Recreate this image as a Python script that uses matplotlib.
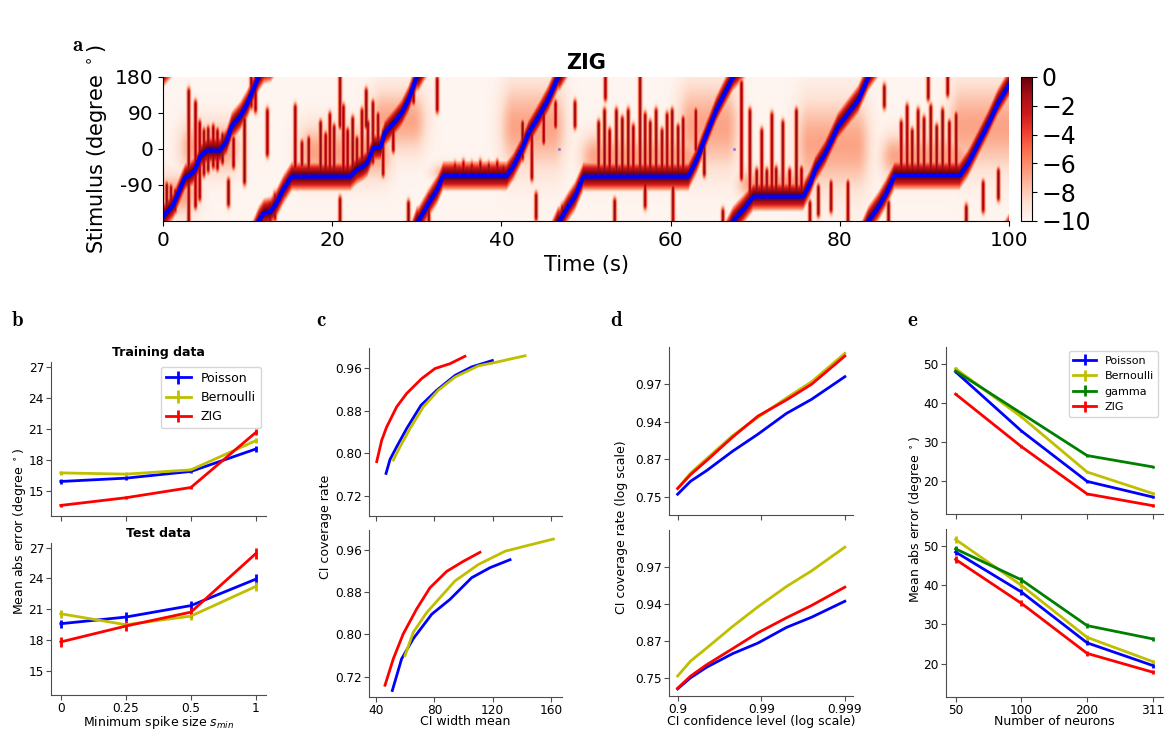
import numpy as np
import matplotlib
matplotlib.use("Agg")
import matplotlib.pyplot as plt

# ---------------- panel a: decoded stimulus (time in s, angle in degrees), one list per wrap
SEG_T = [
    [0.0, 1.2, 2.6, 3.0, 3.8, 4.4, 5.2, 6.7, 7.5, 8.1, 9.1, 9.9, 11.3],
    [11.3, 11.9, 12.7, 13.4, 14.2, 15.2, 22.1, 22.9, 23.5, 24.1, 24.9, 25.7, 26.2, 27.4, 28.2, 29.0, 30.0],
    [30.2, 31.4, 32.4, 33.1, 40.6, 41.4, 42.4, 43.2, 44.4, 45.5, 46.7],
    [46.9, 47.9, 48.7, 49.7, 62.1, 63.1, 64.3, 65.4, 66.2, 67.4],
    [67.4, 68.6, 69.8, 75.7, 76.5, 77.1, 78.3, 79.8, 81.0, 82.2, 83.4],
    [83.4, 84.6, 85.5, 86.5, 94.2, 95.2, 96.4, 97.6, 98.7, 100.0],
]
SEG_A = [
    [-170, -140, -71, -68, -52, -19, -4, -4, 18, 56, 81, 110, 180],
    [-180, -161, -157, -136, -102, -69, -69, -52, -46, -36, 3, 4, 39, 68, 89, 122, 180],
    [-180, -136, -102, -68, -68, -44, -2, 39, 81, 122, 180],
    [-180, -144, -119, -69, -69, -27, 39, 97, 131, 180],
    [-180, -152, -119, -119, -86, -52, -11, 56, 89, 122, 180],
    [-180, -144, -111, -66, -66, -36, 14, 64, 114, 160],
]
WRAP_DOT_T = [46.85, 67.5]
WRAP_DOT_A = [0, 0]

# broad hazy parts of the posterior: (t0, t1, angle_lo, angle_hi)
CLOUDS = [
    (3.5, 7.5, -45, 50), (17.5, 25.5, -60, 40), (33.5, 40.5, -68, -50),
    (51.0, 62.0, -60, 20), (69.5, 75.5, -110, -65), (86.5, 94.0, -60, 20),
    (0.0, 2.5, -150, -80), (41.5, 46.0, -30, 140), (76.5, 82.0, -80, 100),
    (94.5, 100.0, -30, 140), (26.0, 29.5, 10, 130), (62.5, 66.5, -30, 140),
]
# vertical streaks of the posterior: (t, angle_lo, angle_hi)
STREAKS = [
    (0.4, -150, -95), (0.9, -140, -100), (1.4, -150, -110), (3.0, -180, 140), (3.8, -140, 110),
    (4.3, -120, 60), (4.8, -60, 40), (5.3, -50, 45), (5.9, -40, 50), (6.4, -45, 40), (7.0, -30, 30),
    (7.7, -135, -85), (8.3, -40, 20), (9.6, -80, 70), (10.4, 110, 180), (10.9, 100, 180),
    (12.3, -10, 90), (12.6, -180, -140), (13.2, -170, -120), (15.6, -45, 100), (16.4, -40, 10),
    (17.2, -50, 20), (18.6, -60, 60), (19.2, -60, 30), (19.7, -60, 80), (20.2, -60, 50),
    (20.9, 60, 180), (20.9, -180, -130), (21.3, -60, 100), (21.8, -60, 40), (22.4, -60, 70),
    (22.9, -50, 20), (23.5, -50, 90), (24.0, 60, 140), (24.2, -40, 60), (24.8, -30, 110),
    (25.4, 10, 80), (26.0, -60, 40), (27.2, 0, 60),
    (29.0, -180, -140), (29.6, 120, 170), (31.4, -180, -120), (32.4, 100, 170), (34.5, -68, -45),
    (35.5, -68, -40), (36.5, -68, -45), (37.5, -68, -40), (38.5, -68, -45), (39.5, -68, -40),
    (40.2, -68, -50), (42.5, -20, 60), (43.6, -70, 60), (44.1, -170, -120), (45.0, 20, 100),
    (46.4, 60, 110), (48.7, 60, 110),
    (47.2, -180, -150), (51.5, -68, 60), (52.2, -68, 90), (52.3, 130, 180), (52.8, -68, 40),
    (53.4, -180, -135), (53.6, -68, 90), (54.3, -68, 70), (55.0, -68, 90), (55.6, -68, 50),
    (56.4, -68, 180), (57.0, -140, -90), (57.0, -68, 80), (57.6, -68, 60), (58.3, -68, 90),
    (59.0, -68, 40), (59.6, -68, 80), (60.2, -68, 90), (60.3, -180, -100), (60.9, -68, 50),
    (61.5, -68, 70), (63.0, 0, 90), (64.0, -60, 20), (66.2, -180, -160),
    (68.4, -70, 160), (69.4, -117, 90), (70.2, -117, -60), (70.8, -117, 40), (71.4, -117, -60),
    (72.0, -117, 80), (72.5, -117, -55), (73.3, -117, 60), (74.1, -117, -60), (74.9, -117, 90),
    (75.5, -117, -55), (76.5, -180, -140), (77.5, -160, -100), (79.0, -150, -90), (81.0, -180, -90),
    (85.3, 110, 150), (85.8, -180, -140), (87.3, -68, 60), (88.0, -68, 100), (88.6, -68, 40),
    (89.3, -68, 90), (90.0, -68, 70), (90.5, 130, 180), (90.8, -68, 100), (91.5, -68, 50),
    (92.2, -68, 90), (92.8, 140, 180), (93.0, -68, 60), (93.8, -68, 80), (95.0, -180, -150),
    (97.0, -150, -90), (98.8, -120, -60),
]

# ---------------- panel b: mean abs error vs minimum spike size
SMIN_LABELS = ["0", "0.25", "0.5", "1"]
TRAIN_POISSON = [15.93, 16.25, 16.9, 19.07]
TRAIN_BERNOULLI = [16.76, 16.64, 17.05, 19.88]
TRAIN_ZIG = [13.62, 14.36, 15.35, 20.68]
TRAIN_ERR_POISSON = [0.2, 0.2, 0.2, 0.25]
TRAIN_ERR_BERNOULLI = [0.2, 0.2, 0.2, 0.25]
TRAIN_ERR_ZIG = [0.15, 0.15, 0.15, 0.3]
TEST_POISSON = [19.58, 20.23, 21.35, 23.94]
TEST_BERNOULLI = [20.55, 19.48, 20.32, 23.23]
TEST_ZIG = [17.8, 19.35, 20.71, 26.45]
TEST_ERR_POISSON = [0.4, 0.45, 0.45, 0.5]
TEST_ERR_BERNOULLI = [0.4, 0.4, 0.4, 0.45]
TEST_ERR_ZIG = [0.45, 0.45, 0.45, 0.55]

# ---------------- panel c: CI coverage rate vs CI width mean
C_TRAIN_POISSON_X = [46.9, 49.6, 54.2, 61.0, 70.9, 81.6, 94.2, 105.6, 119.8]
C_TRAIN_POISSON_Y = [0.762, 0.788, 0.812, 0.846, 0.890, 0.918, 0.946, 0.962, 0.974]
C_TRAIN_BERNOULLI_X = [51.9, 56.5, 63.3, 72.5, 82.7, 94.2, 110.2, 122.7, 142.2]
C_TRAIN_BERNOULLI_Y = [0.787, 0.812, 0.846, 0.887, 0.918, 0.943, 0.964, 0.971, 0.983]
C_TRAIN_ZIG_X = [40.5, 43.9, 47.3, 54.2, 61.0, 71.3, 80.5, 90.7, 101.0]
C_TRAIN_ZIG_Y = [0.784, 0.824, 0.849, 0.887, 0.912, 0.940, 0.959, 0.968, 0.982]
C_TEST_POISSON_X = [51.2, 54.2, 57.6, 65.6, 78.2, 90.7, 105.6, 118.2, 131.9]
C_TEST_POISSON_Y = [0.694, 0.722, 0.754, 0.792, 0.838, 0.866, 0.907, 0.926, 0.941]
C_TEST_BERNOULLI_X = [59.9, 65.6, 74.7, 94.2, 110.2, 128.5, 145.6, 161.6]
C_TEST_BERNOULLI_Y = [0.760, 0.804, 0.841, 0.901, 0.932, 0.957, 0.969, 0.980]
C_TEST_ZIG_X = [46.2, 51.9, 58.7, 67.9, 77.0, 88.5, 99.9, 111.3]
C_TEST_ZIG_Y = [0.704, 0.754, 0.801, 0.848, 0.888, 0.919, 0.938, 0.955]

# ---------------- panel d: coverage rate vs confidence level (both on -log10(1-p) scale)
CONF_LEVELS = [0.9, 0.93, 0.955, 0.978, 0.989, 0.995, 0.9975, 0.999]
D_TRAIN_POISSON = [0.7607, 0.8116, 0.8451, 0.8916, 0.9206, 0.9459, 0.9583, 0.9725]
D_TRAIN_BERNOULLI = [0.7847, 0.8378, 0.8755, 0.9187, 0.9418, 0.9593, 0.9698, 0.9821]
D_TRAIN_ZIG = [0.7847, 0.8333, 0.8712, 0.9164, 0.9431, 0.9578, 0.9684, 0.9812]
D_TEST_POISSON = [0.6945, 0.7517, 0.7958, 0.8415, 0.8697, 0.9027, 0.9196, 0.9403]
D_TEST_BERNOULLI = [0.7596, 0.8180, 0.8571, 0.9045, 0.9336, 0.9546, 0.9661, 0.9782]
D_TEST_ZIG = [0.6980, 0.7590, 0.8050, 0.8555, 0.8924, 0.9187, 0.9354, 0.9541]
D_YTICK_LABELS = ["0.75", "0.87", "0.94", "0.97"]
D_XTICK_LABELS = ["0.9", "0.99", "0.999"]

# ---------------- panel e: mean abs error vs number of neurons
NEURON_LABELS = ["50", "100", "200", "311"]
E_TRAIN_POISSON = [47.9, 32.8, 19.9, 15.9]
E_TRAIN_BERNOULLI = [48.7, 36.4, 22.3, 16.8]
E_TRAIN_GAMMA = [48.1, 37.3, 26.5, 23.6]
E_TRAIN_ZIG = [42.2, 28.8, 16.7, 13.7]
E_TEST_POISSON = [48.5, 38.3, 25.3, 19.5]
E_TEST_BERNOULLI = [51.7, 40.0, 26.7, 20.5]
E_TEST_GAMMA = [49.3, 41.4, 29.7, 26.3]
E_TEST_ZIG = [46.6, 35.4, 22.6, 17.8]
E_TRAIN_ERR = [0.3, 0.3, 0.3, 0.3]
E_TEST_ERR = [0.8, 0.8, 0.6, 0.5]

COLORS = {"Poisson": "b", "Bernoulli": "y", "gamma": "g", "ZIG": "r"}
SMALL = 9


def soft_box(x, lo, hi, w):
    out = np.maximum(np.maximum(lo - x, x - hi), 0)
    return np.exp(-0.5 * (out / w) ** 2)


def style_small(ax, show_x=True):
    for s in ["top", "right"]:
        ax.spines[s].set_visible(False)
    for s in ["left", "bottom"]:
        ax.spines[s].set_color("0.3")
    ax.tick_params(labelsize=8.7, length=3.5, color="0.3", pad=1.5, labelbottom=show_x)


fig = plt.figure(figsize=(11.68, 7.30), dpi=100)

# ---------------- panel a
ax_a = fig.add_axes([0.1396, 0.6973, 0.7243, 0.1973])
t_grid = np.linspace(0, 100, 1001)
a_grid = np.linspace(-180, 180, 181)
TT, AA = np.meshgrid(t_grid, a_grid)
traj = np.zeros_like(t_grid)
for ts, angs in zip(SEG_T, SEG_A):
    m = t_grid >= ts[0]
    traj[m] = np.interp(t_grid[m], ts, angs)
dist = np.abs((AA - traj[None, :] + 180) % 360 - 180)
logp = -10 * (dist / 40.0) ** 2
for t0, t1, lo, hi in CLOUDS:
    mid, half = (lo + hi) / 2, (hi - lo) / 2
    g = soft_box(TT, t0, t1, 1.2) * np.exp(-0.5 * ((AA - mid) / (0.8 * half + 8)) ** 2)
    logp = np.maximum(logp, -10 + 3.2 * g)
for ts, lo, hi in STREAKS:
    g = np.exp(-0.5 * ((TT - ts) / 0.16) ** 2) * soft_box(AA, lo, hi, 10)
    logp = np.maximum(logp, -10 + 9.3 * g)
logp = np.clip(logp, -10, 0)

im = ax_a.imshow(logp, extent=[0, 100, -180, 180], origin="lower", aspect="auto",
                 cmap="Reds", vmin=-10, vmax=0)
for ts, angs in zip(SEG_T, SEG_A):
    ax_a.plot(ts, angs, color="b", lw=3)
ax_a.scatter(WRAP_DOT_T, WRAP_DOT_A, s=5, color="b", alpha=0.4, lw=0)
ax_a.set_xlim(0, 100)
ax_a.set_ylim(-180, 180)
ax_a.set_xticks([0, 20, 40, 60, 80, 100])
ax_a.set_yticks([-90, 0, 90, 180])
ax_a.set_yticklabels(["-90", "0", "90", "180"])
ax_a.tick_params(labelsize=14.5)
for s in ["top", "right"]:
    ax_a.spines[s].set_visible(False)
ax_a.set_xlabel("Time (s)", fontsize=15)
ax_a.set_ylabel("Stimulus (degree $^\\circ$)", fontsize=15)
ax_a.set_title("ZIG", fontsize=15, fontweight="bold", pad=6)

cax = fig.add_axes([0.8741, 0.6973, 0.0094, 0.1973])
cb = fig.colorbar(im, cax=cax, ticks=[0, -2, -4, -6, -8, -10])
cb.ax.tick_params(labelsize=17)

# ---------------- panel b
xb = np.arange(len(SMIN_LABELS))
ax_b1 = fig.add_axes([0.0437, 0.2932, 0.1838, 0.2114])
ax_b2 = fig.add_axes([0.0437, 0.0478, 0.1838, 0.2088])
for ax, series in [
    (ax_b1, [("Poisson", TRAIN_POISSON, TRAIN_ERR_POISSON), ("Bernoulli", TRAIN_BERNOULLI, TRAIN_ERR_BERNOULLI),
             ("ZIG", TRAIN_ZIG, TRAIN_ERR_ZIG)]),
    (ax_b2, [("Poisson", TEST_POISSON, TEST_ERR_POISSON), ("Bernoulli", TEST_BERNOULLI, TEST_ERR_BERNOULLI),
             ("ZIG", TEST_ZIG, TEST_ERR_ZIG)]),
]:
    for name, vals, err in series:
        ax.errorbar(xb, vals, yerr=err, color=COLORS[name], lw=2, elinewidth=2, capsize=0, label=name)
    ax.set_xlim(-0.15, 3.15)
    ax.set_ylim(12.6, 27.5)
    ax.set_yticks([15, 18, 21, 24, 27])
    ax.set_xticks(xb)
ax_b2.set_xticklabels(SMIN_LABELS)
style_small(ax_b1, show_x=False)
style_small(ax_b2)
ax_b1.set_title("Training data", fontsize=SMALL, fontweight="bold", pad=4)
ax_b2.set_title("Test data", fontsize=SMALL, fontweight="bold", pad=4)
ax_b1.legend(loc="upper right", fontsize=SMALL, borderaxespad=0.4)
ax_b2.set_xlabel("Minimum spike size $s_{min}$", fontsize=SMALL, labelpad=-1)
fig.text(0.0171, 0.2716, "Mean abs error (degree $^\\circ$)", rotation=90, ha="center", va="center",
         fontsize=SMALL)

# ---------------- panel c
ax_c1 = fig.add_axes([0.3159, 0.2932, 0.165, 0.2297])
ax_c2 = fig.add_axes([0.3159, 0.0454, 0.165, 0.2285])
for ax, series in [
    (ax_c1, [("Poisson", C_TRAIN_POISSON_X, C_TRAIN_POISSON_Y), ("Bernoulli", C_TRAIN_BERNOULLI_X, C_TRAIN_BERNOULLI_Y),
             ("ZIG", C_TRAIN_ZIG_X, C_TRAIN_ZIG_Y)]),
    (ax_c2, [("Poisson", C_TEST_POISSON_X, C_TEST_POISSON_Y), ("Bernoulli", C_TEST_BERNOULLI_X, C_TEST_BERNOULLI_Y),
             ("ZIG", C_TEST_ZIG_X, C_TEST_ZIG_Y)]),
]:
    for name, xs, ys in series:
        ax.plot(xs, ys, color=COLORS[name], lw=2)
    ax.set_xlim(35.2, 167.3)
    ax.set_ylim(0.682, 0.997)
    ax.set_xticks([40, 80, 120, 160])
    ax.set_yticks([0.72, 0.80, 0.88, 0.96])
    ax.set_yticklabels(["0.72", "0.80", "0.88", "0.96"])
style_small(ax_c1, show_x=False)
style_small(ax_c2)
ax_c2.set_xlabel("CI width mean", fontsize=SMALL, labelpad=-1)
fig.text(0.279, 0.2785, "CI coverage rate", rotation=90, ha="center", va="center", fontsize=SMALL)

# ---------------- panel d
xd = -np.log10(1 - np.array(CONF_LEVELS))
ax_d1 = fig.add_axes([0.573, 0.2945, 0.1575, 0.2305])
ax_d2 = fig.add_axes([0.573, 0.0462, 0.1575, 0.2277])
for ax, series in [
    (ax_d1, [("Poisson", D_TRAIN_POISSON), ("Bernoulli", D_TRAIN_BERNOULLI), ("ZIG", D_TRAIN_ZIG)]),
    (ax_d2, [("Poisson", D_TEST_POISSON), ("Bernoulli", D_TEST_BERNOULLI), ("ZIG", D_TEST_ZIG)]),
]:
    for name, cov in series:
        ax.plot(xd, -np.log10(1 - np.array(cov)), color=COLORS[name], lw=2)
    ax.set_xlim(0.9, 3.1)
    ax.set_ylim(0.455, 1.80)
    ax.set_xticks([1, 2, 3])
    ax.set_yticks([0.6, 0.9, 1.2, 1.5])
    ax.set_yticklabels(D_YTICK_LABELS)
ax_d2.set_xticklabels(D_XTICK_LABELS)
style_small(ax_d1, show_x=False)
style_small(ax_d2)
ax_d2.set_xlabel("CI confidence level (log scale)", fontsize=SMALL, labelpad=-1)
fig.text(0.5323, 0.2785, "CI coverage rate (log scale)", rotation=90, ha="center", va="center",
         fontsize=SMALL)

# ---------------- panel e
xe = np.arange(len(NEURON_LABELS))
ax_e1 = fig.add_axes([0.8097, 0.2955, 0.1858, 0.2295])
ax_e2 = fig.add_axes([0.8097, 0.0454, 0.1858, 0.2295])
for ax, series, err in [
    (ax_e1, [("Poisson", E_TRAIN_POISSON), ("Bernoulli", E_TRAIN_BERNOULLI), ("gamma", E_TRAIN_GAMMA),
             ("ZIG", E_TRAIN_ZIG)], E_TRAIN_ERR),
    (ax_e2, [("Poisson", E_TEST_POISSON), ("Bernoulli", E_TEST_BERNOULLI), ("gamma", E_TEST_GAMMA),
             ("ZIG", E_TEST_ZIG)], E_TEST_ERR),
]:
    for name, vals in series:
        ax.errorbar(xe, vals, yerr=err, color=COLORS[name], lw=2, elinewidth=2, capsize=0, label=name)
    ax.set_xlim(-0.15, 3.15)
    ax.set_ylim(11.5, 54.3)
    ax.set_yticks([20, 30, 40, 50])
    ax.set_xticks(xe)
ax_e2.set_xticklabels(NEURON_LABELS)
style_small(ax_e1, show_x=False)
style_small(ax_e2)
ax_e1.legend(loc="upper right", fontsize=8, borderaxespad=0.4)
ax_e2.set_xlabel("Number of neurons", fontsize=SMALL, labelpad=-1)
fig.text(0.7835, 0.2877, "Mean abs error (degree $^\\circ$)", rotation=90, ha="center", va="center",
         fontsize=SMALL)

# ---------------- panel letters
for x, y, letter in [(0.0668, 0.938, "a"), (0.015, 0.562, "b"), (0.275, 0.562, "c"),
                     (0.528, 0.562, "d"), (0.781, 0.562, "e")]:
    fig.text(x, y, "$\\mathbf{%s}$" % letter, fontsize=15, ha="center", va="center", math_fontfamily="cm")

fig.savefig("out.png", dpi=100)
